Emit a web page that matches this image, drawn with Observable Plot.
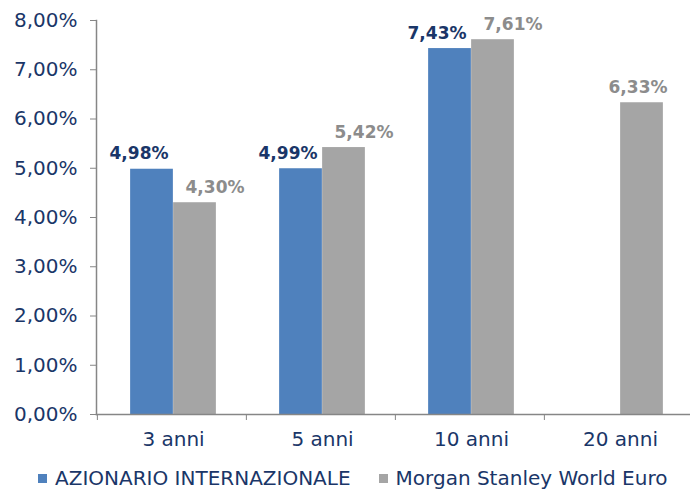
<!DOCTYPE html>
<html>
<head>
<meta charset="utf-8">
<script src="https://cdn.jsdelivr.net/npm/d3@7"></script>
<script src="https://cdn.jsdelivr.net/npm/@observablehq/plot@0.6"></script>
<style>
  html, body { margin: 0; padding: 0; background: #fff; }
  body { width: 690px; height: 490px; overflow: hidden; font-family: "DejaVu Sans", Verdana, sans-serif; }
  #legend { display: flex; justify-content: flex-start; align-items: center; gap: 28px; height: 30px; margin-top: 8px; font-size: 20px; color: #1A3668; padding-left: 38px; }
  #legend span.item { display: flex; align-items: center; gap: 8px; }
  #legend span.sw { width: 9px; height: 9px; display: inline-block; }
</style>
</head>
<body>
<div id="chart"></div>
<div id="legend"></div>
<script>
const categories = ["3 anni", "5 anni", "10 anni", "20 anni"];
const seriesNames = ["AZIONARIO INTERNAZIONALE", "Morgan Stanley World Euro"];
const fundValues = [4.98, 4.99, 7.43, null];
const indexValues = [4.30, 5.42, 7.61, 6.33];
const yTicks = [0, 1, 2, 3, 4, 5, 6, 7, 8];
const colors = ["#4F81BD", "#A5A5A5"];
const labelColors = ["#1A3668", "#8C8C8C"];

const fmt = v => v.toFixed(2).replace(".", ",") + "%";

const fund = categories.map((c, i) => ({cat: c, v: fundValues[i]})).filter(d => d.v != null);
const index = categories.map((c, i) => ({cat: c, v: indexValues[i], paired: fundValues[i] != null}));

const width = 690, height = 455;
const marginLeft = 96, marginRight = -3, marginTop = 20, marginBottom = 41;
const bw = (width - marginLeft - marginRight) / categories.length;
const barW = 43;
const shift = 1.5;

const plot = Plot.plot({
  width, height, marginLeft, marginRight, marginTop, marginBottom,
  style: {fontFamily: "DejaVu Sans, Verdana, sans-serif", background: "#fff"},
  x: {type: "band", domain: categories, padding: 0, label: null},
  y: {domain: [0, 8], label: null},
  marks: [
    Plot.barY(fund, {x: "cat", y: "v", fill: colors[0],
      insetLeft: bw / 2 - barW + shift, insetRight: bw / 2 - shift}),
    Plot.barY(index, {x: "cat", y: "v", fill: colors[1],
      insetLeft: bw / 2 + shift, insetRight: bw / 2 - barW - shift}),
    Plot.text(fund, {x: "cat", y: "v", text: d => fmt(d.v), dx: -barW / 2 + shift - 13, dy: -10,
      lineAnchor: "bottom", fill: labelColors[0], fontWeight: "bold", fontSize: 17}),
    Plot.text(index.filter(d => d.paired), {x: "cat", y: "v", text: d => fmt(d.v), dx: barW / 2 + shift + 20, dy: -10,
      lineAnchor: "bottom", fill: labelColors[1], fontWeight: "bold", fontSize: 17}),
    Plot.text(index.filter(d => !d.paired), {x: "cat", y: "v", text: d => fmt(d.v), dx: barW / 2 + shift - 4, dy: -10,
      lineAnchor: "bottom", fill: labelColors[1], fontWeight: "bold", fontSize: 17}),
    Plot.frame({anchor: "left", stroke: "#868686", strokeWidth: 1.5}),
    Plot.frame({anchor: "bottom", stroke: "#868686", strokeWidth: 1.5}),
    Plot.axisY({ticks: yTicks, tickFormat: fmt, tickSize: 6, tickPadding: 13, stroke: "#868686",
      fill: "#1A3668", fontSize: 20, label: null}),
    Plot.axisX({ticks: categories, tickSize: 6, tickFormat: () => "", dx: -bw / 2, stroke: "#868686", label: null}),
    Plot.axisX({ticks: categories, tickSize: 0, tickPadding: 17, dx: shift, fill: "#1A3668", fontSize: 20, label: null})
  ]
});
document.getElementById("chart").appendChild(plot);

const legend = d3.select("#legend");
seriesNames.forEach((name, i) => {
  const item = legend.append("span").attr("class", "item");
  item.append("span").attr("class", "sw").style("background", colors[i]);
  item.append("span").text(name);
});
</script>
</body>
</html>
